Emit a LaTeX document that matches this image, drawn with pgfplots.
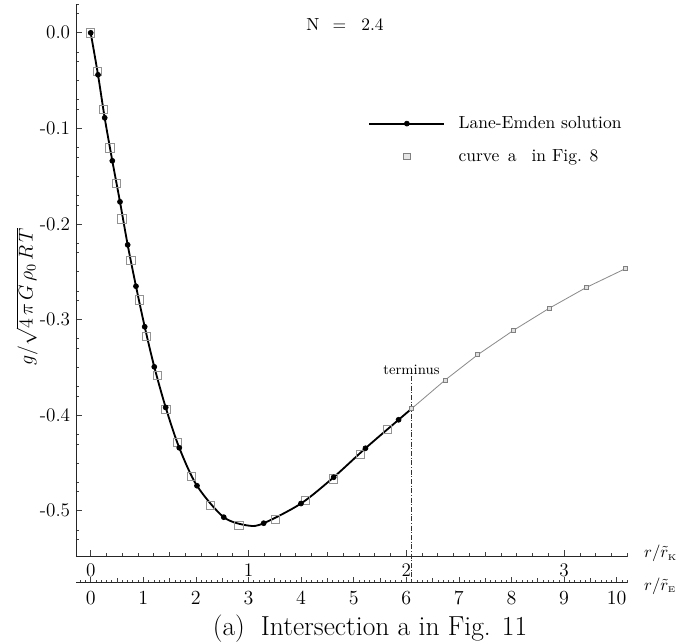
\documentclass[border=0pt]{standalone}
\usepackage{pgfplots}
\pgfplotsset{compat=1.18}
\begin{document}
\begin{tikzpicture}[x=1pt,y=1pt]
\useasboundingbox (-45.6pt,-51.8pt) rectangle (369pt,334pt);
\begin{axis}[
  at={(0pt,0pt)}, anchor=south west, scale only axis,
  width=330.7pt, height=331.8pt,
  xmin=-0.2795, xmax=10.2, ymin=-0.548, ymax=0.0305,
  axis x line*=bottom, axis y line*=left,
  axis line style={line width=0.5pt, black!85, -},
  tick align=inside,
  clip=false,
  ytick={-0.5,-0.4,-0.3,-0.2,-0.1,0},
  yticklabels={-0.5,-0.4,-0.3,-0.2,-0.1,0.0},
  minor ytick={0.03,0.02,-0.02,-0.03,-0.05,-0.07,-0.08,-0.12,-0.13,-0.15,-0.17,-0.18,-0.22,-0.23,-0.25,-0.27,-0.28,-0.32,-0.33,-0.35,-0.37,-0.38,-0.42,-0.43,-0.45,-0.47,-0.48,-0.52,-0.53},
  xtick={0,3,6,9}, xticklabels={0,1,2,3},
  minor xtick={0,0.3,...,10.21},
  extra x ticks={1.5,4.5,7.5}, extra x tick labels={},
  extra x tick style={major tick length=3pt},
  major tick length=3.8pt, minor tick length=2pt,
  tick style={black!75, line width=0.4pt},
  ticklabel style={font=\fontsize{11.5}{13}\selectfont},
  xticklabel style={yshift=-1pt},
  legend style={draw=none, fill=none, at={(axis description cs:0.530,0.806)}, anchor=north west,
    row sep=5pt, column sep=5pt, inner sep=0pt, legend cell align=left, nodes={inner sep=3pt},
    font=\fontsize{10.5}{12}\selectfont},
]
% curve a in Fig. 8 (squares)
\addplot[forget plot, only marks, mark=square, mark size=2.5pt, mark options={draw=gray!85, line width=0.5pt}] coordinates {
(0,0) (0.133,-0.0405) (0.240,-0.0802) (0.367,-0.1203) (0.487,-0.1576) (0.595,-0.1946)
(0.766,-0.2382) (0.924,-0.2793) (1.065,-0.3174) (1.266,-0.3582) (1.432,-0.3937)
(1.646,-0.4282) (1.920,-0.4638) (2.272,-0.4947) (2.816,-0.5151) (3.510,-0.5088)
(4.080,-0.4892) (4.612,-0.4665) (5.125,-0.4408) (5.643,-0.4150)};
% terminus line
\addplot[forget plot, black!80, line width=0.4pt, dash pattern=on 3pt off 1pt on 0.6pt off 1pt] coordinates {(6.099,-0.3594) (6.099,-0.5755)};
% tail beyond terminus
\addplot[forget plot, gray!90, line width=0.5pt, mark=square*, mark size=1.2pt, mark options={fill=gray!25, draw=gray, line width=0.4pt}] coordinates {
(6.099,-0.3933) (6.736,-0.3634) (7.357,-0.3368) (8.042,-0.3111) (8.719,-0.2881) (9.422,-0.2664) (10.171,-0.2466)};
% Lane-Emden line
\addplot[forget plot, black, line width=1.1pt, smooth, tension=0.5] coordinates {
(0,0) (0.139,-0.0439) (0.266,-0.0889) (0.411,-0.1339) (0.557,-0.1768) (0.703,-0.2218)
(0.861,-0.2651) (1.027,-0.3075) (1.209,-0.3494) (1.426,-0.3919) (1.684,-0.4341)
(2.021,-0.4738) (2.530,-0.5067) (3.0,-0.5155) (3.289,-0.5130) (3.998,-0.4924) (4.620,-0.4649)
(5.224,-0.4346) (5.854,-0.4048) (6.099,-0.3933)};
% Lane-Emden marks
\addplot[forget plot, only marks, mark=*, mark size=1.5pt, black] coordinates {
(0,0) (0.139,-0.0439) (0.266,-0.0889) (0.411,-0.1339) (0.557,-0.1768) (0.703,-0.2218)
(0.861,-0.2651) (1.027,-0.3075) (1.209,-0.3494) (1.426,-0.3919) (1.684,-0.4341)
(2.021,-0.4738) (2.530,-0.5067) (3.289,-0.5130) (3.998,-0.4924) (4.620,-0.4649)
(5.224,-0.4346) (5.854,-0.4048)};
\addlegendimage{legend image code/.code={\draw[black,line width=1.1pt] (0pt,0pt) -- (45pt,0pt); \fill[black] (22.5pt,0pt) circle (1.5pt);}}
\addlegendentry{Lane-Emden solution}
\addlegendimage{legend image code/.code={\draw[draw=none] (0pt,0pt) -- (45pt,0pt); \draw[gray,fill=gray!20,line width=0.4pt] (20.5pt,-2pt) rectangle (24.5pt,2pt);}}
\addlegendentry{curve\hspace{5pt}a\hspace{9pt}in Fig. 8}
\node[font=\fontsize{10.5}{12}\selectfont] at (axis description cs:0.488,0.962) {N\hspace{8pt}=\hspace{9pt}2.4};
\node[font=\fontsize{8.6}{10}\selectfont, anchor=base] at (axis cs:6.099,-0.357) {terminus};
\node[anchor=west, inner sep=0pt, font=\fontsize{10}{12}\selectfont] at (axis description cs:1.03,0.006) {$r/\tilde r_{\scriptscriptstyle\mathrm{K}}$};
\end{axis}
\begin{axis}[
  at={(0pt,-15.6pt)}, anchor=south west, scale only axis,
  width=330.7pt, height=10pt,
  xmin=-0.2795, xmax=10.2, ymin=0, ymax=1,
  axis x line*=bottom, axis y line=none,
  axis line style={line width=0.5pt, black!85, -},
  tick align=inside,
  clip=false,
  xtick={0,1,...,10},
  minor xtick={-0.2,-0.1,...,10.21},
  extra x ticks={0.5,1.5,...,9.5}, extra x tick labels={},
  extra x tick style={major tick length=2.6pt},
  major tick length=3.2pt, minor tick length=1.5pt,
  tick style={black!75, line width=0.35pt},
  ticklabel style={font=\fontsize{11.5}{13}\selectfont},
  xticklabel style={yshift=-2pt},
]
\addplot[draw=none, forget plot] coordinates {(0,0.5)};
\node[anchor=west, inner sep=0pt, font=\fontsize{10}{12}\selectfont] at (axis description cs:1.03,-0.2) {$r/\tilde r_{\scriptscriptstyle\mathrm{E}}$};
\end{axis}
\node[rotate=90, font=\fontsize{12}{14}\selectfont] at (-29.5pt,156pt) {$g/\sqrt{4\,\pi\, G\,\rho_0\, R\,T}$};
\node[font=\fontsize{16.5}{19}\selectfont] at (176.4pt,-43pt) {(a)\hspace{9.6pt}Intersection a in Fig. 11};
\end{tikzpicture}
\end{document}
